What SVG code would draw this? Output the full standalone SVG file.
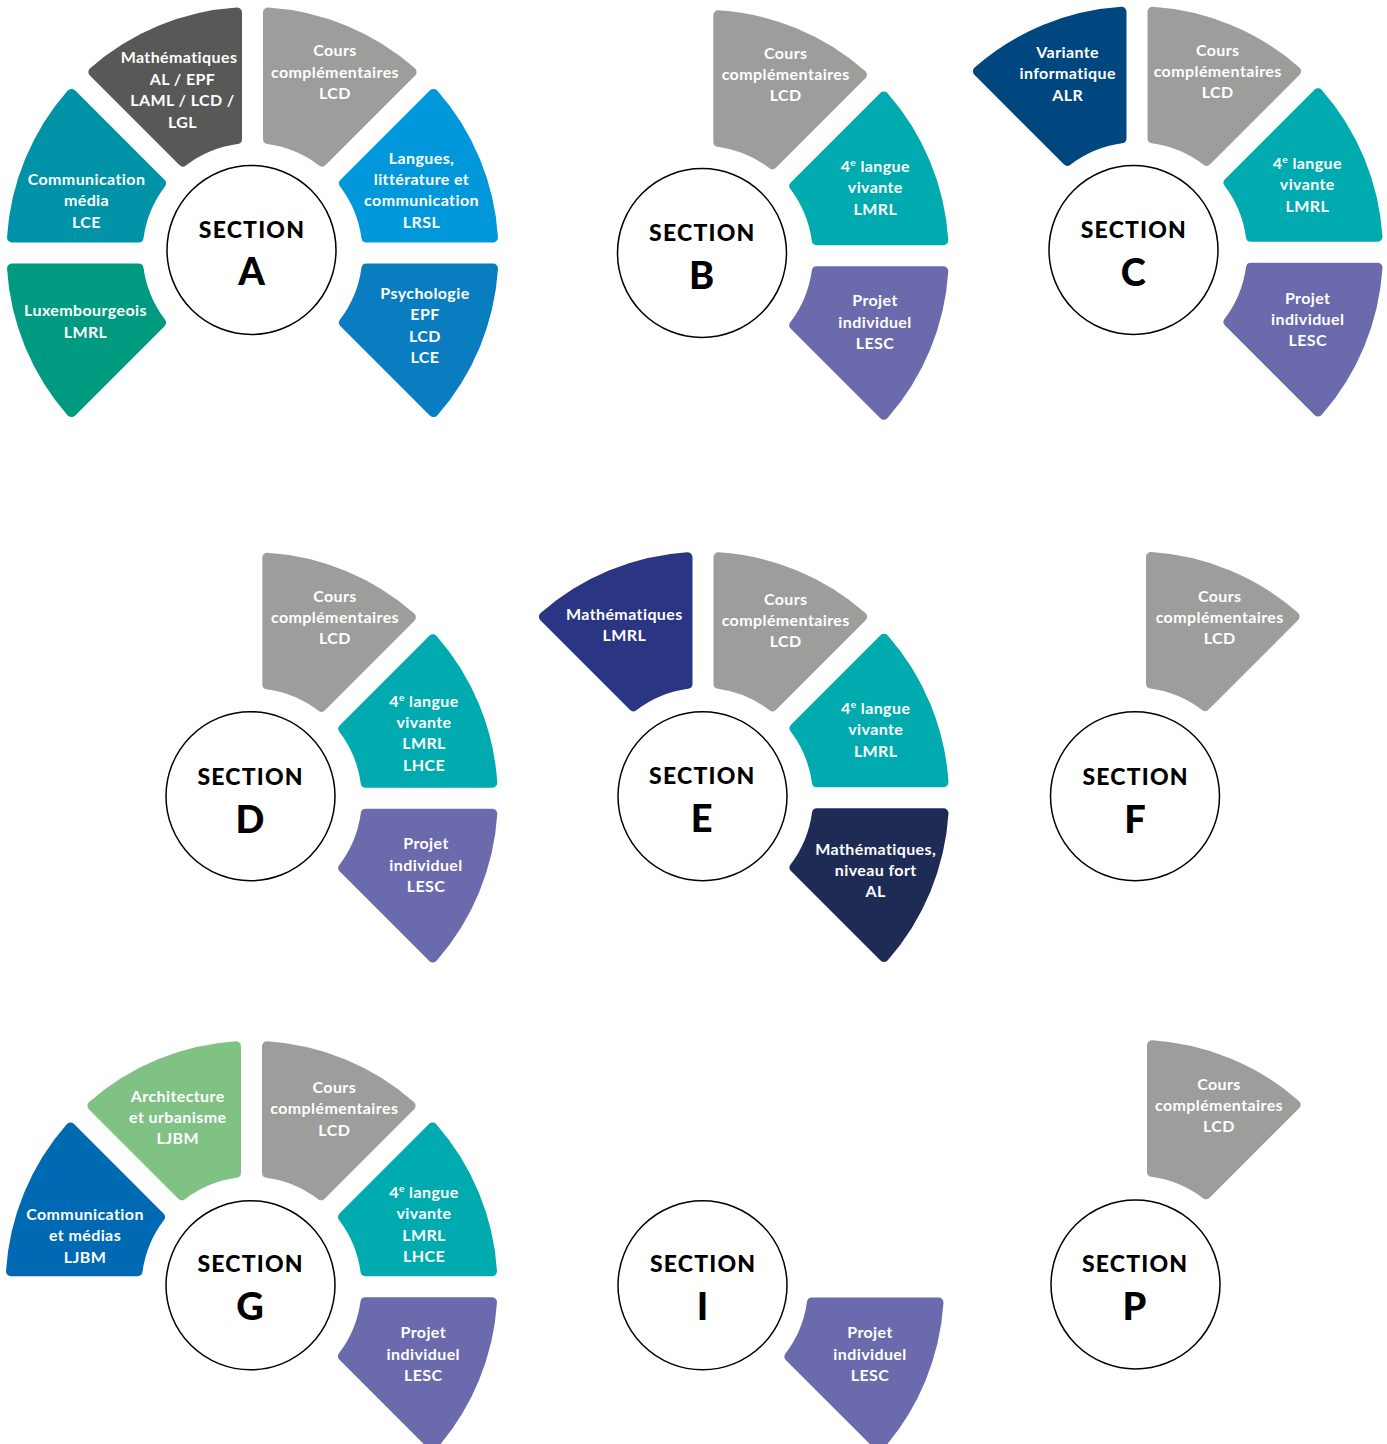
<svg xmlns="http://www.w3.org/2000/svg" xmlns:xlink="http://www.w3.org/1999/xlink" width="1387" height="1444" viewBox="0 0 1387 1444">
<style>
.p{stroke-width:10;stroke-linejoin:round}
.gray{fill:#9d9d9c;stroke:#9d9d9c}
.dgray{fill:#585857;stroke:#585857}
.sky{fill:#0098db;stroke:#0098db}
.blue{fill:#0a7dc1;stroke:#0a7dc1}
.cteal{fill:#0093a8;stroke:#0093a8}
.green{fill:#009a80;stroke:#009a80}
.teal{fill:#00abb0;stroke:#00abb0}
.purple{fill:#6a6aac;stroke:#6a6aac}
.navyb{fill:#00477f;stroke:#00477f}
.indigo{fill:#2a3583;stroke:#2a3583}
.night{fill:#1e2c55;stroke:#1e2c55}
.lgreen{fill:#80c184;stroke:#80c184}
.mblue{fill:#0069b3;stroke:#0069b3}
.lbl{font-family:Lato,"Liberation Sans",sans-serif;font-weight:700;font-size:16px;letter-spacing:0.4px;fill:#fff;text-anchor:middle}
.sup{font-size:10px}
.ring{fill:#fff;stroke:#000;stroke-width:1.5}
.sec{font-family:Lato,"Liberation Sans",sans-serif;font-weight:900;font-size:23px;letter-spacing:1.2px;fill:#000;text-anchor:middle}
.let{font-size:38px;letter-spacing:0}
</style>
<defs>
<path id="petal" class="p" d="M15.5,-113.95 L15.5,-240.5 A241,241 0 0 1 159.1,-181.02 L69.61,-91.53 A115,115 0 0 0 15.5,-113.95 Z"/>
</defs>
<g id="connectors"/>

<!-- SECTION A -->
<g id="A-center"><circle class="ring" cx="251.5" cy="250" r="84.5"/><text class="sec"><tspan x="252" y="237.5">SECTION</tspan><tspan class="let" x="251.5" y="285">A</tspan></text></g>
<g id="A-math"><use xlink:href="#petal" class="dgray" transform="translate(252.5,253) rotate(-45)"/><text class="lbl"><tspan x="179" y="63">Mathématiques</tspan><tspan x="182.5" y="84.5">AL / EPF</tspan><tspan x="182.5" y="106">LAML / LCD /</tspan><tspan x="182.5" y="127.5">LGL</tspan></text></g>
<g id="A-cours"><use xlink:href="#petal" class="gray" transform="translate(252.5,253)"/><text class="lbl"><tspan x="335" y="56">Cours</tspan><tspan x="335" y="77.5">complémentaires</tspan><tspan x="335" y="99">LCD</tspan></text></g>
<g id="A-langues"><use xlink:href="#petal" class="sky" transform="translate(252.5,253) rotate(45)"/><text class="lbl"><tspan x="421.5" y="164">Langues,</tspan><tspan x="421.5" y="185">littérature et</tspan><tspan x="421.5" y="206">communication</tspan><tspan x="421.5" y="227.5">LRSL</tspan></text></g>
<g id="A-psycho"><use xlink:href="#petal" class="blue" transform="translate(252.5,253) rotate(90)"/><text class="lbl"><tspan x="425" y="298.5">Psychologie</tspan><tspan x="425" y="320">EPF</tspan><tspan x="425" y="341.5">LCD</tspan><tspan x="425" y="362.5">LCE</tspan></text></g>
<g id="A-comm"><use xlink:href="#petal" class="cteal" transform="translate(252.5,253) rotate(-90)"/><text class="lbl"><tspan x="86.5" y="185">Communication</tspan><tspan x="86.5" y="206">média</tspan><tspan x="86.5" y="227.5">LCE</tspan></text></g>
<g id="A-lux"><use xlink:href="#petal" class="green" transform="translate(252.5,253) rotate(-135)"/><text class="lbl"><tspan x="85.5" y="316">Luxembourgeois</tspan><tspan x="85.5" y="337.5">LMRL</tspan></text></g>

<!-- SECTION B -->
<g id="B-center"><circle class="ring" cx="702" cy="253" r="84.5"/><text class="sec"><tspan x="702.3" y="241">SECTION</tspan><tspan class="let" x="701.7" y="288.7">B</tspan></text></g>
<g id="B-cours"><use xlink:href="#petal" class="gray" transform="translate(702.8,255.7)"/><text class="lbl"><tspan x="785.7" y="59.3">Cours</tspan><tspan x="785.7" y="80">complémentaires</tspan><tspan x="785.7" y="100.7">LCD</tspan></text></g>
<g id="B-langue"><use xlink:href="#petal" class="teal" transform="translate(702.8,255.7) rotate(45)"/><text class="lbl"><tspan x="875.3" y="171.7">4<tspan class="sup" dy="-6">e</tspan><tspan dy="6"> langue</tspan></tspan><tspan x="875.3" y="193.3">vivante</tspan><tspan x="875.3" y="215">LMRL</tspan></text></g>
<g id="B-projet"><use xlink:href="#petal" class="purple" transform="translate(702.8,255.7) rotate(90)"/><text class="lbl"><tspan x="875" y="306">Projet</tspan><tspan x="875" y="327.7">individuel</tspan><tspan x="875" y="348.7">LESC</tspan></text></g>

<!-- SECTION C -->
<g id="C-center"><circle class="ring" cx="1133.5" cy="250" r="84.5"/><text class="sec"><tspan x="1133.9" y="238.3">SECTION</tspan><tspan class="let" x="1133.3" y="286">C</tspan></text></g>
<g id="C-variante"><use xlink:href="#petal" class="navyb" transform="translate(1137,252.3) rotate(-45)"/><text class="lbl"><tspan x="1067.7" y="57.7">Variante</tspan><tspan x="1067.7" y="79">informatique</tspan><tspan x="1067.7" y="100.7">ALR</tspan></text></g>
<g id="C-cours"><use xlink:href="#petal" class="gray" transform="translate(1137,252.3)"/><text class="lbl"><tspan x="1217.7" y="56">Cours</tspan><tspan x="1217.7" y="76.7">complémentaires</tspan><tspan x="1217.7" y="97.7">LCD</tspan></text></g>
<g id="C-langue"><use xlink:href="#petal" class="teal" transform="translate(1137,252.3) rotate(45)"/><text class="lbl"><tspan x="1307.3" y="169">4<tspan class="sup" dy="-6">e</tspan><tspan dy="6"> langue</tspan></tspan><tspan x="1307.3" y="190">vivante</tspan><tspan x="1307.3" y="211.7">LMRL</tspan></text></g>
<g id="C-projet"><use xlink:href="#petal" class="purple" transform="translate(1137,252.3) rotate(90)"/><text class="lbl"><tspan x="1307.7" y="304">Projet</tspan><tspan x="1307.7" y="325">individuel</tspan><tspan x="1307.7" y="345.7">LESC</tspan></text></g>

<!-- SECTION D -->
<g id="D-center"><circle class="ring" cx="250.5" cy="796.2" r="84.5"/><text class="sec"><tspan x="250.6" y="785">SECTION</tspan><tspan class="let" x="250" y="833.3">D</tspan></text></g>
<g id="D-cours"><use xlink:href="#petal" class="gray" transform="translate(251.8,798.3)"/><text class="lbl"><tspan x="335" y="602.3">Cours</tspan><tspan x="335" y="623.3">complémentaires</tspan><tspan x="335" y="644">LCD</tspan></text></g>
<g id="D-langue"><use xlink:href="#petal" class="teal" transform="translate(251.8,798.3) rotate(45)"/><text class="lbl"><tspan x="424" y="706.7">4<tspan class="sup" dy="-6">e</tspan><tspan dy="6"> langue</tspan></tspan><tspan x="424" y="727.7">vivante</tspan><tspan x="424" y="749.3">LMRL</tspan><tspan x="424" y="770.7">LHCE</tspan></text></g>
<g id="D-projet"><use xlink:href="#petal" class="purple" transform="translate(251.8,798.3) rotate(90)"/><text class="lbl"><tspan x="426" y="849">Projet</tspan><tspan x="426" y="870.7">individuel</tspan><tspan x="426" y="891.7">LESC</tspan></text></g>

<!-- SECTION E -->
<g id="E-center"><circle class="ring" cx="702.5" cy="796.2" r="84.5"/><text class="sec"><tspan x="702.3" y="784.3">SECTION</tspan><tspan class="let" x="701.7" y="832.3">E</tspan></text></g>
<g id="E-math"><use xlink:href="#petal" class="indigo" transform="translate(703,797.8) rotate(-45)"/><text class="lbl"><tspan x="624.3" y="620">Mathématiques</tspan><tspan x="624.3" y="640.7">LMRL</tspan></text></g>
<g id="E-cours"><use xlink:href="#petal" class="gray" transform="translate(703,797.8)"/><text class="lbl"><tspan x="785.7" y="605">Cours</tspan><tspan x="785.7" y="626">complémentaires</tspan><tspan x="785.7" y="646.7">LCD</tspan></text></g>
<g id="E-langue"><use xlink:href="#petal" class="teal" transform="translate(703,797.8) rotate(45)"/><text class="lbl"><tspan x="875.7" y="714">4<tspan class="sup" dy="-6">e</tspan><tspan dy="6"> langue</tspan></tspan><tspan x="875.7" y="735">vivante</tspan><tspan x="875.7" y="756.7">LMRL</tspan></text></g>
<g id="E-mathfort"><use xlink:href="#petal" class="night" transform="translate(703,797.8) rotate(90)"/><text class="lbl"><tspan x="875.7" y="855">Mathématiques,</tspan><tspan x="875.7" y="876">niveau fort</tspan><tspan x="875.7" y="897.3">AL</tspan></text></g>

<!-- SECTION F -->
<g id="F-center"><circle class="ring" cx="1135" cy="796.2" r="84.5"/><text class="sec"><tspan x="1135.6" y="785">SECTION</tspan><tspan class="let" x="1135" y="833.3">F</tspan></text></g>
<g id="F-cours"><use xlink:href="#petal" class="gray" transform="translate(1135.5,797.5)"/><text class="lbl"><tspan x="1219.7" y="601.7">Cours</tspan><tspan x="1219.7" y="623.3">complémentaires</tspan><tspan x="1219.7" y="644">LCD</tspan></text></g>

<!-- SECTION G -->
<g id="G-center"><circle class="ring" cx="250.5" cy="1285.3" r="84.5"/><text class="sec"><tspan x="250.6" y="1272.3">SECTION</tspan><tspan class="let" x="250" y="1320">G</tspan></text></g>
<g id="G-archi"><use xlink:href="#petal" class="lgreen" transform="translate(251.5,1286.7) rotate(-45)"/><text class="lbl"><tspan x="177.7" y="1102.3">Architecture</tspan><tspan x="177.7" y="1123.3">et urbanisme</tspan><tspan x="177.7" y="1144">LJBM</tspan></text></g>
<g id="G-cours"><use xlink:href="#petal" class="gray" transform="translate(251.5,1286.7)"/><text class="lbl"><tspan x="334.3" y="1093.3">Cours</tspan><tspan x="334.3" y="1114">complémentaires</tspan><tspan x="334.3" y="1136">LCD</tspan></text></g>
<g id="G-langue"><use xlink:href="#petal" class="teal" transform="translate(251.5,1286.7) rotate(45)"/><text class="lbl"><tspan x="424" y="1197.7">4<tspan class="sup" dy="-6">e</tspan><tspan dy="6"> langue</tspan></tspan><tspan x="424" y="1219">vivante</tspan><tspan x="424" y="1240.7">LMRL</tspan><tspan x="424" y="1262.3">LHCE</tspan></text></g>
<g id="G-projet"><use xlink:href="#petal" class="purple" transform="translate(251.5,1286.7) rotate(90)"/><text class="lbl"><tspan x="423.3" y="1338.3">Projet</tspan><tspan x="423.3" y="1360">individuel</tspan><tspan x="423.3" y="1381">LESC</tspan></text></g>
<g id="G-comm"><use xlink:href="#petal" class="mblue" transform="translate(251.5,1286.7) rotate(-90)"/><text class="lbl"><tspan x="85" y="1220">Communication</tspan><tspan x="85" y="1241">et médias</tspan><tspan x="85" y="1262.7">LJBM</tspan></text></g>

<!-- SECTION I -->
<g id="I-center"><circle class="ring" cx="702.5" cy="1285.3" r="84.5"/><text class="sec"><tspan x="703.1" y="1272.3">SECTION</tspan><tspan class="let" x="702.5" y="1320">I</tspan></text></g>
<g id="I-projet"><use xlink:href="#petal" class="purple" transform="translate(698,1287) rotate(90)"/><text class="lbl"><tspan x="870" y="1338">Projet</tspan><tspan x="870" y="1360">individuel</tspan><tspan x="870" y="1381">LESC</tspan></text></g>

<!-- SECTION P -->
<g id="P-center"><circle class="ring" cx="1135.5" cy="1284.5" r="84.5"/><text class="sec"><tspan x="1135.1" y="1272.3">SECTION</tspan><tspan class="let" x="1134.5" y="1320">P</tspan></text></g>
<g id="P-cours"><use xlink:href="#petal" class="gray" transform="translate(1136.5,1285.7)"/><text class="lbl"><tspan x="1219" y="1090">Cours</tspan><tspan x="1219" y="1111">complémentaires</tspan><tspan x="1219" y="1132">LCD</tspan></text></g>
</svg>
